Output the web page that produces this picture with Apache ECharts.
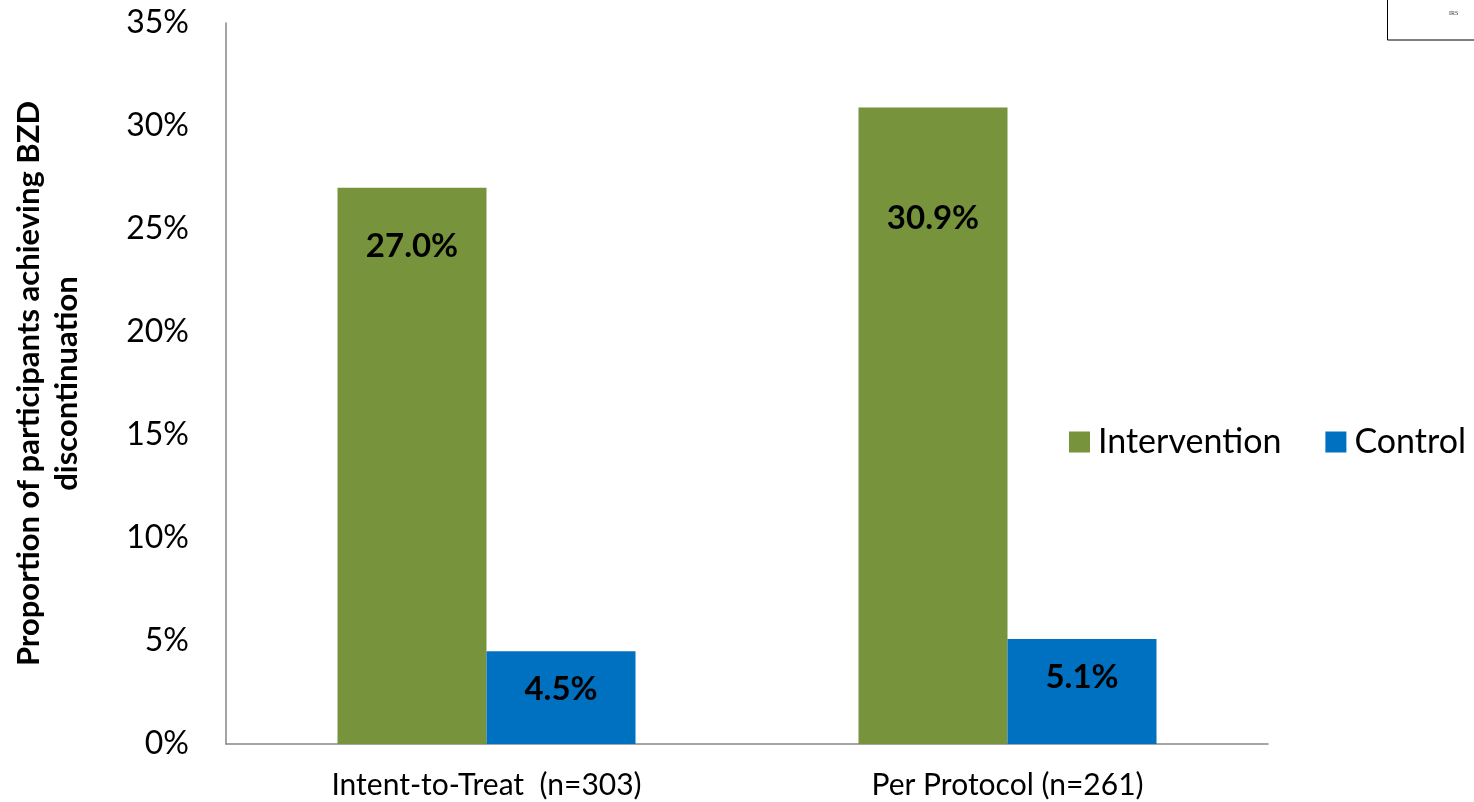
<!DOCTYPE html>
<html>
<head>
<meta charset="utf-8">
<script src="https://cdn.jsdelivr.net/npm/echarts@6/dist/echarts.min.js"></script>
<style>
  html, body { margin: 0; padding: 0; background: #fff; }
  #chart { width: 1474px; height: 802px; }
</style>
</head>
<body>
<div id="chart"></div>
<script>
// Benzodiazepine discontinuation by analysis population
const categories = ['Intent-to-Treat  (n=303)', 'Per Protocol (n=261)'];
const interventionValues = [27.0, 30.9];
const controlValues = [4.5, 5.1];
const seriesNames = ['Intervention', 'Control'];
const yTicks = [0, 5, 10, 15, 20, 25, 30, 35];

// label distance from bar top, per bar
const interventionLabelDist = [42, 94];
const controlLabelDist = [22, 22];

const FONT = 'Lato, "Open Sans", sans-serif';

function withLabels(values, dists) {
  return values.map((v, i) => ({
    value: v,
    label: { distance: dists[i] }
  }));
}

const barLabel = {
  show: true,
  position: 'insideTop',
  fontSize: 33,
  fontWeight: 'bold',
  color: '#000',
  fontFamily: FONT,
  formatter: p => p.value.toFixed(1) + '%'
};

const chart = echarts.init(document.getElementById('chart'));
chart.setOption({
  animation: false,
  textStyle: { fontFamily: FONT },
  grid: { left: 226, right: 206, top: 23, bottom: 58 },
  legend: {
    data: seriesNames,
    left: 1064,
    top: 420,
    itemWidth: 21,
    itemHeight: 21,
    itemGap: 44,
    icon: 'rect',
    textStyle: { fontSize: 34, color: '#000', fontFamily: FONT, padding: [0, 0, 0, 3] }
  },
  xAxis: {
    type: 'category',
    data: categories,
    axisLine: { lineStyle: { color: '#868686', width: 1.5 } },
    axisTick: { show: false },
    axisLabel: { fontSize: 30, color: '#000', margin: 26, fontFamily: FONT }
  },
  yAxis: {
    type: 'value',
    min: 0,
    max: 35,
    interval: 5,
    name: 'Proportion of participants achieving BZD\ndiscontinuation',
    nameLocation: 'middle',
    nameRotate: 90,
    nameGap: 140,
    nameTextStyle: { fontSize: 31, fontWeight: 'bold', color: '#000', lineHeight: 38, fontFamily: FONT },
    splitLine: { show: false },
    axisLine: { show: true, lineStyle: { color: '#868686', width: 1.5 } },
    axisTick: { show: false },
    axisLabel: {
      fontSize: 32,
      color: '#000',
      margin: 37,
      fontFamily: FONT,
      formatter: v => (yTicks.includes(v) ? v + '%' : '')
    }
  },
  series: [
    {
      name: seriesNames[0],
      type: 'bar',
      data: withLabels(interventionValues, interventionLabelDist),
      itemStyle: { color: '#77933C' },
      barWidth: 149,
      barGap: '0%',
      label: barLabel
    },
    {
      name: seriesNames[1],
      type: 'bar',
      data: withLabels(controlValues, controlLabelDist),
      itemStyle: { color: '#0070C0' },
      barWidth: 149,
      barGap: '0%',
      label: barLabel
    }
  ],
  graphic: [
    {
      type: 'rect',
      shape: { x: 1387.5, y: -2, width: 100, height: 42 },
      style: { fill: '#fff', stroke: '#000', lineWidth: 1 }
    },
    {
      type: 'text',
      x: 1449,
      y: 10,
      style: { text: 'IRS', fontSize: 6, fill: '#333', fontFamily: 'serif' }
    }
  ]
});
</script>
</body>
</html>
